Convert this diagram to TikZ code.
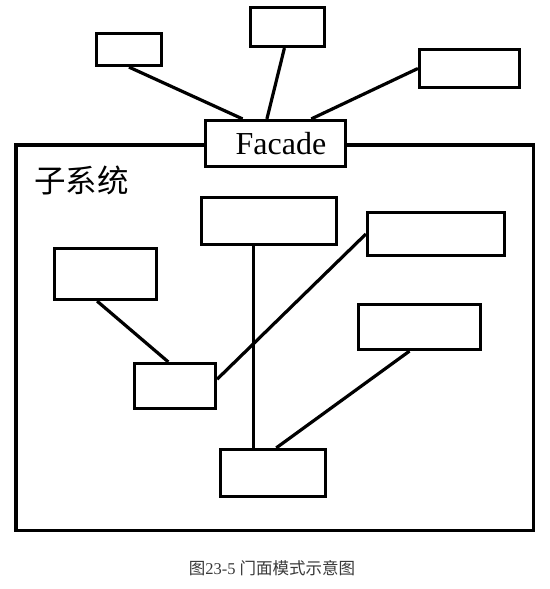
\documentclass[tikz,border=0pt]{standalone}
\usepackage{fontspec}
\setmainfont{Liberation Serif}
\newfontfamily\cjkfont{Noto Sans CJK SC}
\usetikzlibrary{calc}
\begin{document}
\begin{tikzpicture}[x=1pt,y=-1pt,
  box/.style={draw=black,line width=3.2pt,fill=white,inner sep=0pt,rectangle},
  link/.style={draw=black,line width=3.2pt},
  frame/.style={draw=black,line width=3.5pt}]
\fill[white] (0,0) rectangle (549,589);
\useasboundingbox (0,0) rectangle (549,589);
% subsystem frame
\draw[frame] (15.75,144.75) rectangle (533.25,530.25);
\node[anchor=west,inner sep=0pt,font=\cjkfont\fontsize{31.5}{31.5}\selectfont] (sub) at (34,180) {子系统};
% client boxes
\node[box,minimum width=65pt,minimum height=32pt] (A) at (129,49.5) {};
\node[box,minimum width=74pt,minimum height=39pt] (B) at (287.5,27) {};
\node[box,minimum width=100pt,minimum height=38pt] (C) at (469.5,68.5) {};
% facade
\node[box,minimum width=140pt,minimum height=46pt,font=\fontsize{32}{32}\selectfont] (F0) at (275.5,143.5) {\hspace*{11pt}Facade};
% subsystem boxes
\node[box,minimum width=135pt,minimum height=47pt] (D) at (269,221) {};
\node[box,minimum width=137pt,minimum height=43pt] (E) at (436,234) {};
\node[box,minimum width=102pt,minimum height=51pt] (F) at (105.5,274) {};
\node[box,minimum width=122pt,minimum height=45pt] (G) at (419.5,327) {};
\node[box,minimum width=81pt,minimum height=45pt] (H) at (175,386) {};
\node[box,minimum width=105pt,minimum height=47pt] (I) at (273,473) {};
% connectors client -> facade
\draw[link] (A.south) -- ($(F0.north west)!0.27!(F0.north east)$);
\draw[link] ($(B.south west)!0.46!(B.south east)$) -- ($(F0.north west)!0.44!(F0.north east)$);
\draw[link] (C.west) -- ($(F0.north west)!0.75!(F0.north east)$);
% connectors within subsystem
\coordinate (Dj) at ($(D.south west)!0.39!(D.south east)$);
\draw[link] (Dj) -- (Dj |- I.north);
\draw[link] ($(F.south west)!0.42!(F.south east)$) -- ($(H.north west)!0.42!(H.north east)$);
\draw[link] ($(H.north east)!0.36!(H.south east)$) -- (E.west);
\draw[link] ($(G.south west)!0.42!(G.south east)$) -- ($(I.north west)!0.53!(I.north east)$);
% caption
\node[inner sep=0pt,text=black!78,font=\fontsize{16.5}{16.5}\selectfont] (cap) at (272,568) {{\cjkfont 图}23-5 {\cjkfont 门面模式示意图}};
\end{tikzpicture}
\end{document}
